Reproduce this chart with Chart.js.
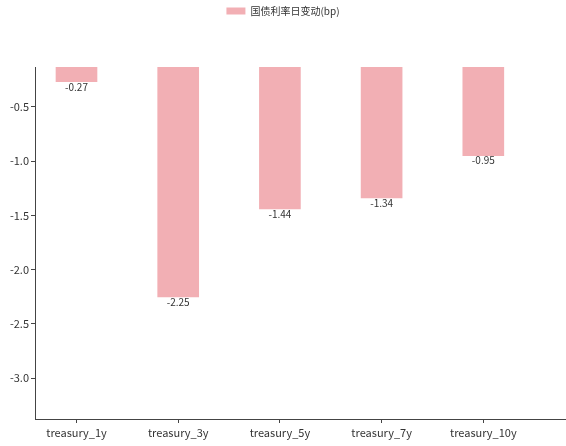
<!DOCTYPE html>
<html>
<head>
<meta charset="utf-8">
<script src="https://cdn.jsdelivr.net/npm/chart.js@4/dist/chart.umd.min.js"></script>
<style>
  html, body { margin: 0; padding: 0; background: #fff; overflow: hidden; }
  #wrap { width: 566px; height: 446px; position: relative; }
</style>
</head>
<body>
<div id="wrap"><canvas id="myChart"></canvas></div>
<script>
// DATA ----------------------------------------------------------------
var categories = ["treasury_1y", "treasury_3y", "treasury_5y", "treasury_7y", "treasury_10y"];
var bpChange = [-0.27, -2.25, -1.44, -1.34, -0.95];
var seriesName = "国债利率日变动(bp)";
var yTicks = [-3.0, -2.5, -2.0, -1.5, -1.0, -0.5];

var FONT = '"Noto Sans CJK SC", "Noto Sans", sans-serif';
var BAR_COLOR = "#f2afb4";
var AXIS_COLOR = "#444";

// VALUE LABELS UNDER EACH BAR -----------------------------------------
var valueLabels = {
  id: "valueLabels",
  afterDatasetsDraw: function(chart) {
    var ctx = chart.ctx;
    var meta = chart.getDatasetMeta(0);
    ctx.save();
    ctx.font = "10px " + FONT;
    ctx.fillStyle = "#333";
    ctx.textAlign = "center";
    ctx.textBaseline = "top";
    meta.data.forEach(function(bar, i) {
      ctx.fillText(bpChange[i].toFixed(2), bar.x, bar.y);
    });
    ctx.restore();
  }
};

// extra space under the legend
var legendGap = {
  id: "legendGap",
  beforeLayout: function(chart) {
    var lg = chart.legend;
    if (lg && !lg._gapPatched) {
      var fit = lg.fit;
      lg.fit = function() {
        fit.call(this);
        this.height += 41;
      };
      lg._gapPatched = true;
    }
  }
};

// CHART ------------------------------------------------------------------
var ctx = document.getElementById("myChart").getContext("2d");
var chart = new Chart(ctx, {
  type: "bar",
  data: {
    datasets: [{
      label: seriesName,
      data: bpChange.map(function(v, i) { return { x: i, y: v }; }),
      backgroundColor: BAR_COLOR,
      borderWidth: 0,
      barThickness: 41,
      clip: 0
    }]
  },
  plugins: [valueLabels, legendGap],
  options: {
    responsive: true,
    maintainAspectRatio: false,
    animation: false,
    layout: { padding: 0 },
    plugins: {
      tooltip: { enabled: false },
      legend: {
        position: "top",
        labels: {
          boxWidth: 19,
          boxHeight: 7,
          padding: 6,
          color: "#333",
          font: { family: FONT, size: 10 }
        }
      }
    },
    scales: {
      x: {
        type: "linear",
        offset: false,
        min: -0.408,
        max: 4.813,
        afterBuildTicks: function(scale) {
          scale.ticks = categories.map(function(c, i) { return { value: i }; });
        },
        afterFit: function(scale) { scale.height = 27; },
        grid: { offset: false, drawOnChartArea: false, drawTicks: true, tickLength: 4, color: AXIS_COLOR },
        border: { display: true, color: AXIS_COLOR, width: 1 },
        ticks: {
          color: "#333",
          padding: 3,
          maxRotation: 0,
          font: { family: FONT, size: 11 },
          callback: function(v) { return categories[v]; }
        }
      },
      y: {
        min: -3.375,
        max: -0.134,
        afterBuildTicks: function(scale) {
          scale.ticks = yTicks.map(function(v) { return { value: v }; });
        },
        afterFit: function(scale) { scale.width = 35; },
        grid: { drawOnChartArea: false, drawTicks: true, tickLength: 4, color: AXIS_COLOR },
        border: { display: true, color: AXIS_COLOR, width: 1 },
        ticks: {
          color: "#333",
          padding: 2,
          font: { family: FONT, size: 11 },
          callback: function(v) { return v.toFixed(1); }
        }
      }
    }
  }
});
</script>
</body>
</html>
